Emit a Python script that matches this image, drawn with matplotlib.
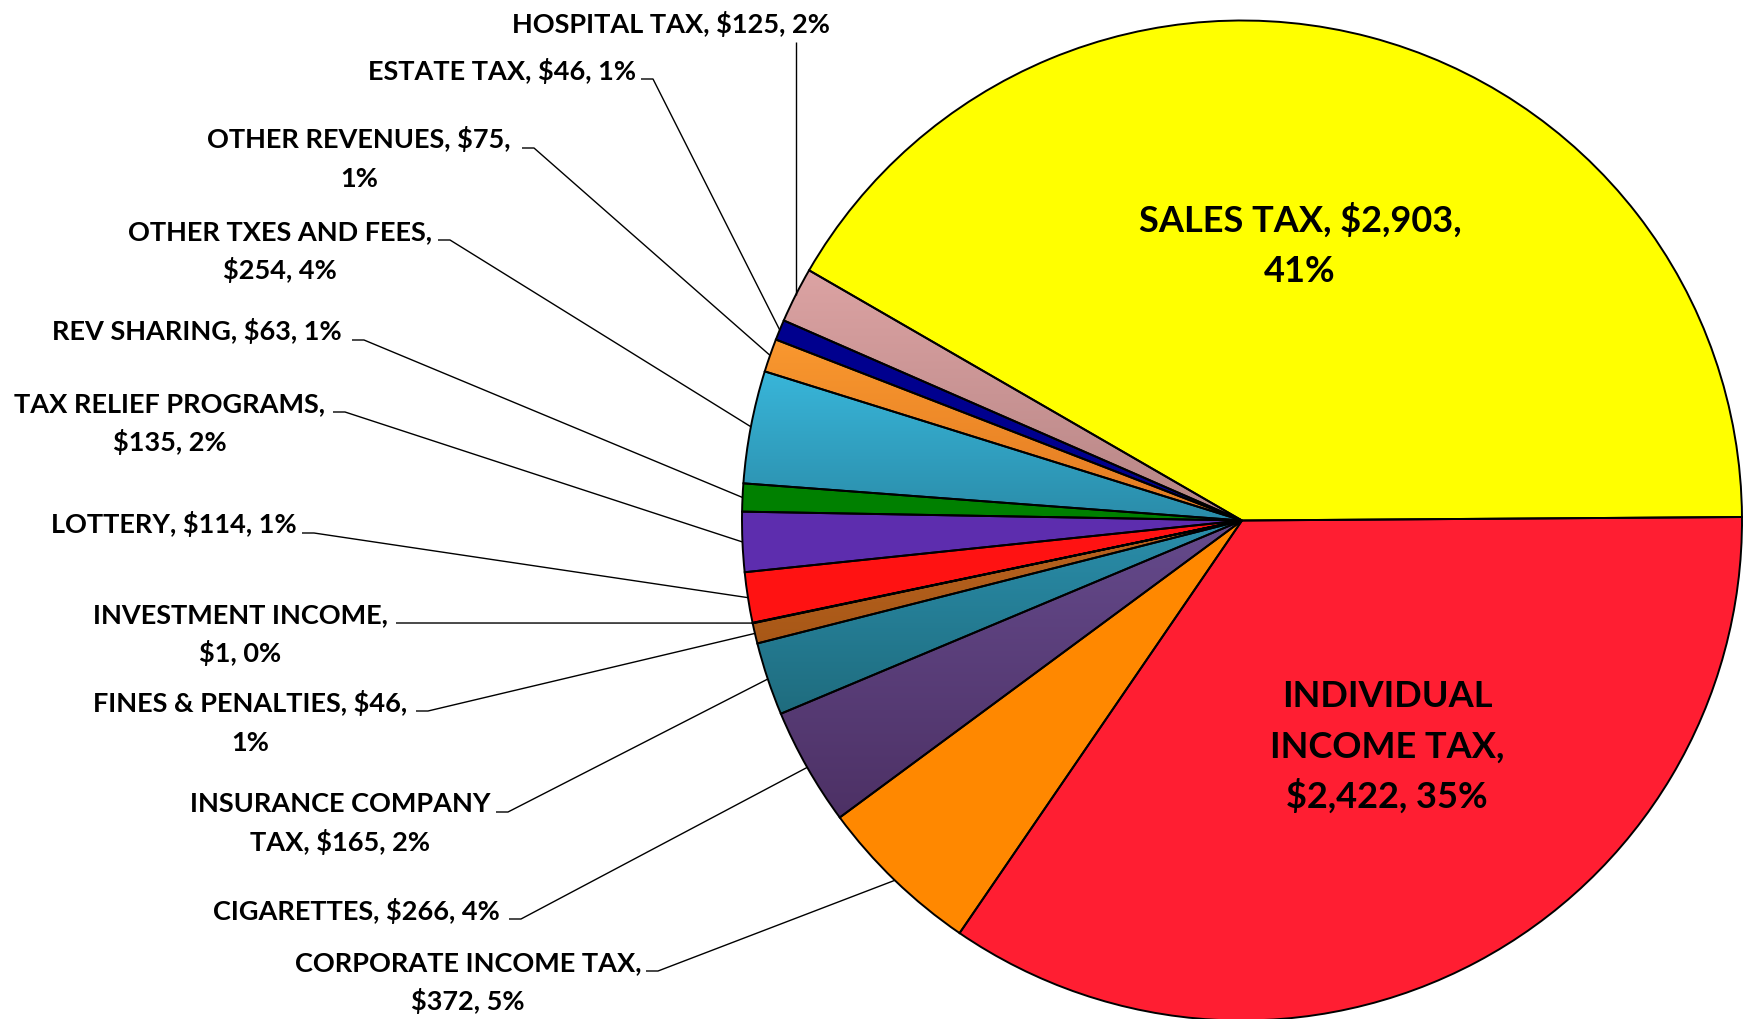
import numpy as np
import matplotlib
matplotlib.use("Agg")
import matplotlib.pyplot as plt
from matplotlib.colors import to_rgb

# ---------------- data ----------------
names = ["SALES TAX", "HOSPITAL TAX", "ESTATE TAX", "OTHER REVENUES",
         "OTHER TXES AND FEES", "REV SHARING", "TAX RELIEF PROGRAMS",
         "LOTTERY", "INVESTMENT INCOME", "FINES & PENALTIES",
         "INSURANCE COMPANY TAX", "CIGARETTES", "CORPORATE INCOME TAX",
         "INDIVIDUAL INCOME TAX"]
values = [2903, 125, 46, 75, 254, 63, 135, 114, 1, 46, 165, 266, 372, 2422]
pcts = [41, 2, 1, 1, 4, 1, 2, 1, 0, 1, 2, 4, 5, 35]

# ---------------- styles ----------------
top_colors = ["#FFFF00", "#DCA3A3", "#00008E", "#F9982F", "#39B6DA", "#008000",
              "#5D2DAE", "#FF1212", "#9A9A9A", "#BA6420", "#2A8EAB", "#654A8C",
              "#FF8800", "#FF1E32"]
bottom_colors = ["#FFFF00", "#B68585", "#00008E", "#E27A22", "#2A8CA9", "#008000",
                 "#5D2DAE", "#FF1212", "#9A9A9A", "#A85817", "#1F6C7E", "#4D3165",
                 "#FF8800", "#FF1E32"]

W, H = 1745, 1019
CX, CY, R = 1242.0, 520.5, 500.0

fig = plt.figure(figsize=(W / 100, H / 100), dpi=100)
fig.patch.set_facecolor("white")

pie_ax = fig.add_axes([(CX - R) / W, (H - CY - R) / H, 2 * R / W, 2 * R / H])
pie_ax.set_axis_off()

wedges, _ = pie_ax.pie(values, colors=top_colors, startangle=0.4, counterclock=True,
                       radius=1.0, center=(0, 0),
                       wedgeprops=dict(edgecolor="none", linewidth=0))

# vertical gradients clipped to each wedge
for w, c1, c2 in zip(wedges, top_colors, bottom_colors):
    if c1 == c2:
        continue
    ext = w.get_path().get_extents()
    n = 256
    a = np.array(to_rgb(c1))
    b = np.array(to_rgb(c2))
    t = np.linspace(0, 1, n)[:, None]
    grad = (a * (1 - t) + b * t)[:, None, :]
    im = pie_ax.imshow(grad, extent=(ext.x0, ext.x1, ext.y0, ext.y1),
                       origin="upper", aspect="auto", zorder=1.5,
                       interpolation="bilinear")
    im.set_clip_path(w)

# slice borders
pie_ax.pie(values, startangle=0.4, counterclock=True, radius=1.0, center=(0, 0),
           wedgeprops=dict(fill=False, edgecolor="black", linewidth=1.4, zorder=3))
pie_ax.set_xlim(-1, 1)
pie_ax.set_ylim(-1, 1)

# overlay axes in pixel coordinates (y down)
ov = fig.add_axes([0, 0, 1, 1], facecolor="none")
ov.set_xlim(0, W)
ov.set_ylim(H, 0)
ov.set_axis_off()

FONT = "Lato"
SMALL = 19.5
BIG = 26


def label_text(i, breaks):
    s = f"{names[i]}, ${values[i]:,}, {pcts[i]}%"
    parts = s.split(" ")
    lines, cur = [], []
    for k, p in enumerate(parts, start=1):
        cur.append(p)
        if k in breaks:
            lines.append(" ".join(cur))
            cur = []
    if cur:
        lines.append(" ".join(cur))
    return lines


def edge_point(i):
    w = wedges[i]
    th = np.deg2rad((w.theta1 + w.theta2) / 2)
    return CX + R * np.cos(th), CY - R * np.sin(th)


# outside labels: (index, line breaks, center x, first baseline, leader start x, leader y)
outside = [
    (1, [], 671, 33, None, 42),
    (2, [], 502, 80, 641, 79),
    (3, [3], 359, 148, 522, 148),
    (4, [4], 280, 240, 438, 240),
    (5, [], 197, 340, 352, 340),
    (6, [3], 170, 412, 333, 412),
    (7, [], 174, 533, 302, 533),
    (8, [2], 240, 623, 396, 623),
    (9, [4], 250, 712, 416, 711),
    (10, [2], 340, 812, 496, 812),
    (11, [], 356, 920, 509, 919),
    (12, [3], 468, 971, 646, 971),
]
SMALL_LS = 39.0
for i, br, xc, yb, lx, ly in outside:
    for k, line in enumerate(label_text(i, br)):
        ov.text(xc, yb + k * SMALL_LS, line, ha="center", va="baseline",
                fontsize=SMALL, fontweight="bold", family=FONT, color="black")
    ex, ey = edge_point(i)
    if lx is None:
        xs, ys = [ex, ex], [ly, ey]
    else:
        xs, ys = [lx, lx + 12, ex], [ly, ly, ey]
    ov.plot(xs, ys, color="black", linewidth=1.0, solid_capstyle="butt")

# inside labels
inside = [
    (0, [3], 1300, 232),
    (13, [1, 3], 1387, 707),
]
BIG_LS = 50.5
for i, br, xc, yb in inside:
    for k, line in enumerate(label_text(i, br)):
        ov.text(xc, yb + k * BIG_LS, line, ha="center", va="baseline",
                fontsize=BIG, fontweight="bold", family=FONT, color="black")

fig.savefig("out.png", dpi=100, facecolor="white")
